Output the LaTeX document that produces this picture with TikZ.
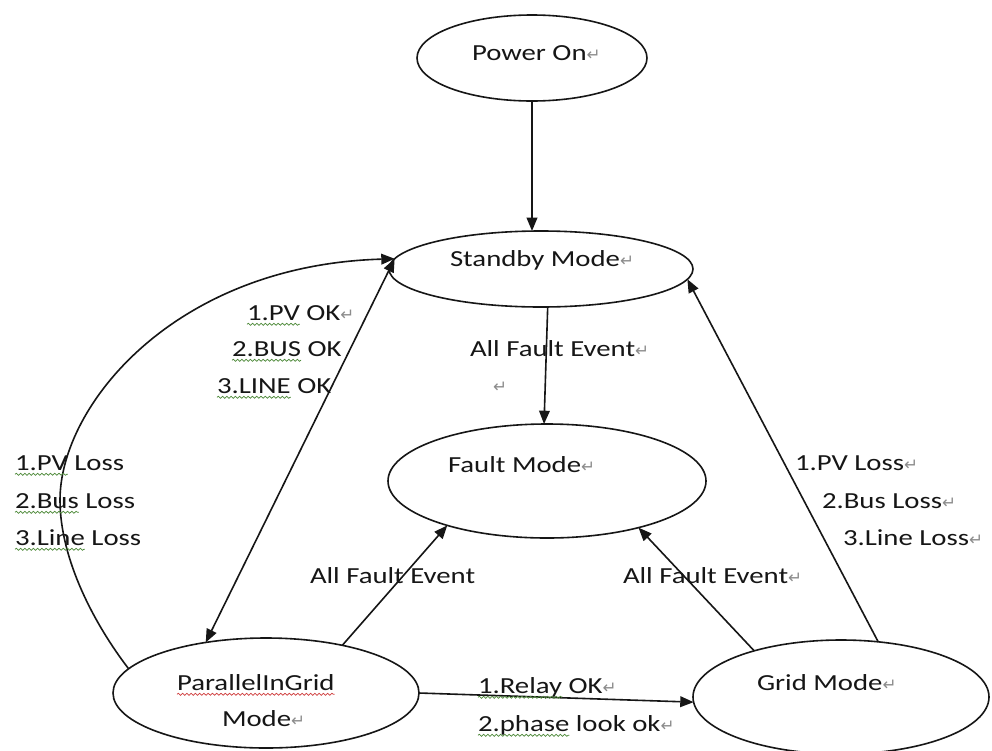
\documentclass[tikz,border=0pt]{standalone}
\usepackage{fontspec}
\setmainfont{Carlito}[FakeStretch=1.25]
\newfontfamily\retfont{DejaVu Sans}
\usetikzlibrary{shapes.geometric, arrows.meta, decorations.pathmorphing}
\definecolor{ink}{HTML}{161616}
\definecolor{markgray}{HTML}{8C8C8C}
\definecolor{gramgreen}{HTML}{4E8A3A}
\definecolor{spellred}{HTML}{D04040}
% paragraph return mark
\newcommand\pmark{{\retfont\fontsize{12.5}{12.5}\selectfont\textcolor{markgray}{↵}}}
\begin{document}
\begin{tikzpicture}[x=0.75pt, y=-0.75pt,
  font=\fontsize{17.25}{20}\selectfont,
  state/.style={ellipse, draw=ink, line width=1.2pt, inner sep=0pt, outer sep=0pt},
  lbl/.style={inner sep=0pt, outer sep=0pt, anchor=base west, text=ink},
  wavy/.style={lbl, append after command={([yshift=-3.2pt]\tikzlastnode.base west)
      edge[draw=#1, line width=0.55pt, decorate,
           decoration={snake, amplitude=0.75pt, segment length=3.2pt}]
      ([yshift=-3.2pt]\tikzlastnode.base east)}},
  wavy/.default=gramgreen,
  ftip/.tip={Triangle[length=10pt, width=8pt]},
  arr/.style={draw=ink, line width=1.2pt, -ftip},
  darr/.style={draw=ink, line width=1.2pt, ftip-ftip},
]
\fill[white] (0,0) rectangle (992,750);
\useasboundingbox (0,0) rectangle (992,750);

% states
\node[state, minimum width=172.5pt, minimum height=64.5pt] (power)   at (532,58)  {};
\node[state, minimum width=228pt,   minimum height=57pt]   (standby) at (541,269) {};
\node[state, minimum width=238.5pt, minimum height=85.5pt] (fault)   at (547,481) {};
\node[state, minimum width=229.5pt, minimum height=82.5pt] (pig)     at (266,693) {};
\node[state, minimum width=222pt,   minimum height=85.5pt] (grid)    at (841,697) {};

% state names
\node[lbl] (tPower)   at (472,60)  {Power On\pmark};
\node[lbl] (tStandby) at (450,266) {Standby Mode\pmark};
\node[lbl] (tFault)   at (448,472) {Fault Mode\pmark};
\node[wavy=spellred] (tPigA) at (177,690) {ParallelInGrid};
\node[lbl] (tPigB)    at (222,726) {Mode\pmark};
\node[lbl] (tGrid)    at (757,690) {Grid Mode\pmark};

% transitions
\draw[arr] (power.south) -- (power.south |- standby.north);
\draw[arr] (standby.-80) -- (fault.93);
\draw[arr] (pig.32) -- (fault.-156);
\draw[arr] (grid.152) -- (fault.-27);
\draw[arr] (grid.56) -- (standby.-4);
\draw[arr] (pig.east) -- (grid.182);
\draw[darr] (standby.176) -- (pig.140);
\draw[arr] (pig.170) .. controls (95,625) and (60,560) .. (60,500)
                     .. controls (60,405) and (175,265) .. (standby.176);

% transition labels
\node[lbl] (evMid)  at (470,356) {All Fault Event\pmark};
\node[lbl] (evMidR) at (493,392) {\pmark};
\node[lbl] (evLeft) at (310,583) {All Fault Event};
\node[lbl] (evRight) at (623,583) {All Fault Event\pmark};

\node[wavy] (okA1) at (247,320) {1.PV};
\node[lbl]  (okA2) at (okA1.base east) {\ OK\pmark};
\node[wavy] (okB1) at (232,356) {2.BUS};
\node[lbl]  (okB2) at (okB1.base east) {\ OK};
\node[wavy] (okC1) at (217,393) {3.LINE};
\node[lbl]  (okC2) at (okC1.base east) {\ OK};

\node[wavy] (lossA1) at (15,470) {1.PV};
\node[lbl]  (lossA2) at (lossA1.base east) {\ Loss};
\node[wavy] (lossB1) at (15,508) {2.Bus};
\node[lbl]  (lossB2) at (lossB1.base east) {\ Loss};
\node[wavy] (lossC1) at (15,545) {3.Line};
\node[lbl]  (lossC2) at (lossC1.base east) {\ Loss};

\node[lbl] (rlossA) at (795,470) {1.PV Loss\pmark};
\node[lbl] (rlossB) at (822,508) {2.Bus Loss\pmark};
\node[lbl] (rlossC) at (843,545) {3.Line Loss\pmark};

\node[wavy] (relA1) at (478,693) {1.Relay};
\node[lbl]  (relA2) at (relA1.base east) {\ OK\pmark};
\node[wavy] (relB1) at (478,731) {2.phase};
\node[lbl]  (relB2) at (relB1.base east) {\ look ok\pmark};
\end{tikzpicture}
\end{document}
